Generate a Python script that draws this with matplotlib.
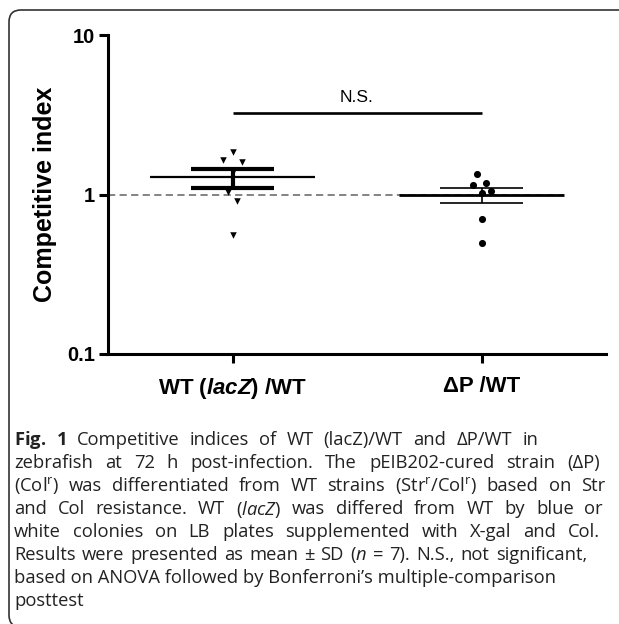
import numpy as np
import matplotlib
matplotlib.use("Agg")
import matplotlib.pyplot as plt
from matplotlib.patches import FancyBboxPatch

# ---- data ----
groups = ["WT ($\\mathbfit{lacZ}$) /WT", "\u0394P /WT"]
wt_lacz = [1.84, 1.64, 1.59, 1.39, 1.03, 0.91, 0.56]
delta_p = [1.34, 1.15, 1.18, 1.05, 1.02, 0.70, 0.50]
ns_level = 3.25
ns_label = "N.S."
y_ticks = [0.1, 1, 10]
y_tick_labels = ["0.1", "1", "10"]
y_title = "Competitive index"

caption_lines = [
    r"$\mathbf{Fig.}$ $\mathbf{1}$ Competitive indices of WT (lacZ)/WT and ΔP/WT in",
    "zebrafish at 72 h post-infection. The pEIB202-cured strain (ΔP)",
    r"(Col$^{\mathrm{r}}$) was differentiated from WT strains (Str$^{\mathrm{r}}$/Col$^{\mathrm{r}}$) based on Str",
    r"and Col resistance. WT ($\mathit{lacZ}$) was differed from WT by blue or",
    "white colonies on LB plates supplemented with X-gal and Col.",
    r"Results were presented as mean ± SD ($\mathit{n}$ = 7). N.S., not significant,",
    "based on ANOVA followed by Bonferroni\u2019s multiple-comparison",
    "posttest",
]
# right edge (px) of the justified caption lines, None = ragged
caption_right = [538, 600, 605, 603, 600, 587, None, None]

# horizontal spread of the dots inside each column (layout only)
wt_spread = [0, -0.038, 0.037, 0, -0.018, 0.019, 0]
dp_spread = [-0.017, -0.036, 0.02, 0.039, 0, 0, 0]

plt.rcParams["mathtext.fontset"] = "custom"
plt.rcParams["mathtext.rm"] = "Open Sans"
plt.rcParams["mathtext.it"] = "Open Sans:italic"
plt.rcParams["mathtext.bf"] = "Open Sans:bold"
plt.rcParams["mathtext.bfit"] = "Liberation Sans:italic:bold"

W, H = 619, 624
fig = plt.figure(figsize=(W / 100, H / 100), dpi=100)
ax = fig.add_axes([0.1745, 0.4327, 0.8045, 0.5112])
ax.set_yscale("log")
ax.set_ylim(0.1, 10)
ax.set_xlim(-0.5, 1.5)

# reference line at 1
ax.hlines(1, -0.5, 1.33, colors="#7a7a7a", linestyles=(0, (4, 2.4)), lw=1.3, zorder=1)

# WT (lacZ)/WT column: thick SEM bars over the triangles
v = np.array(wt_lacz)
m = v.mean()
sem = v.std(ddof=1) / np.sqrt(len(v))
ax.scatter(0 + np.array(wt_spread), v, marker="v", s=22, color="black", zorder=3, linewidths=0)
ax.hlines(m, -0.33, 0.33, color="black", lw=1.6, zorder=4)
ax.hlines([m - sem, m + sem], -0.165, 0.165, color="black", lw=3.0, zorder=4)
ax.vlines(0, m - sem, m + sem, color="black", lw=3.0, zorder=4)

# dP/WT column: thin bars, dots on top
v = np.array(delta_p)
m = v.mean()
sem = v.std(ddof=1) / np.sqrt(len(v))
ax.hlines(m, -0.33 + 1, 0.33 + 1, color="black", lw=2.0, zorder=2)
ax.hlines([m - sem, m + sem], 1 - 0.165, 1 + 0.165, color="black", lw=1.2, zorder=2)
ax.vlines(1, m - sem, m + sem, color="black", lw=1.2, zorder=2)
ax.scatter(1 + np.array(dp_spread), v, marker="o", s=26, color="black", zorder=3, linewidths=0)

# significance bar
ax.hlines(ns_level, 0, 1, color="black", lw=1.9)
ax.annotate(ns_label, (0.5, ns_level), xytext=(0, 6), textcoords="offset points",
            ha="center", va="bottom", fontsize=12.5, family="Liberation Sans")

# axes styling
for side in ["top", "right"]:
    ax.spines[side].set_visible(False)
for side in ["left", "bottom"]:
    ax.spines[side].set_linewidth(2.2)
ax.set_yticks(y_ticks)
ax.set_yticklabels(y_tick_labels, fontsize=14.5, fontweight="bold", family="Liberation Sans")
ax.minorticks_off()
ax.set_xticks([0, 1])
ax.set_xticklabels(groups, fontsize=16, fontweight="bold", family="Liberation Sans")
ax.tick_params(axis="both", direction="out", length=6.5, width=2.2, pad=3)
ax.tick_params(axis="x", pad=9)
ax.set_ylabel(y_title, fontsize=18, fontweight="bold", family="Liberation Sans")
ax.yaxis.set_label_coords(-0.127, 0.5)
ax.yaxis.label.set_verticalalignment("center")

# caption, justified word by word where the original is justified
cap_kw = dict(ha="left", va="center", fontsize=13.2, family=["Open Sans", "DejaVu Sans"], color="#222222")
renderer = fig.canvas.get_renderer()
x_left, y0, step = 14, 440, 23
for i, line in enumerate(caption_lines):
    y = 1 - (y0 + step * i) / H
    right = caption_right[i]
    if right is None:
        fig.text(x_left / W, y, line, **cap_kw)
        continue
    words = [fig.text(0, y, w, **cap_kw) for w in line.split(" ")]
    widths = [t.get_window_extent(renderer).width for t in words]
    gap = (right - x_left - sum(widths)) / (len(words) - 1)
    x = x_left
    for t, w in zip(words, widths):
        t.set_x(x / W)
        x += w + gap

# frame around the figure panel
frame = FancyBboxPatch((0.09, -0.03), 7.5, 6.14 + 0.03, boxstyle="round,pad=0,rounding_size=0.12",
                       transform=fig.dpi_scale_trans, fill=False, lw=1.2, edgecolor="#333333")
fig.patches.append(frame)

fig.savefig("out.png", dpi=100)
